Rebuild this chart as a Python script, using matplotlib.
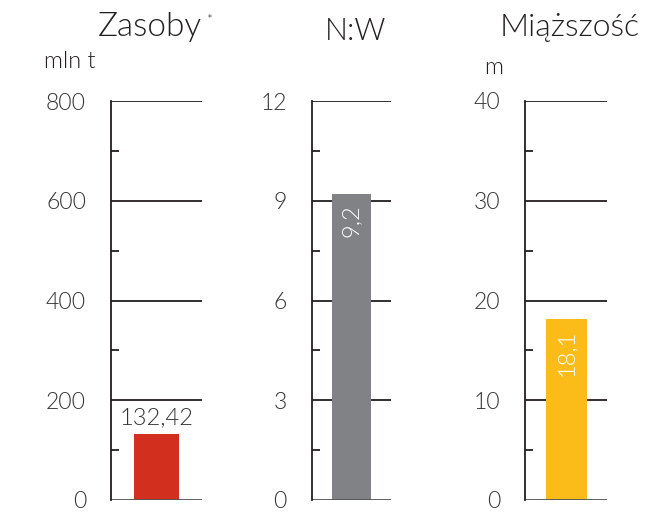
import matplotlib.pyplot as plt

# dane
tytuly = ["Zasoby", "N:W", "Miąższość"]
jednostki = ["mln t", "", "m"]
wartosci = [132.42, 9.2, 18.1]
etykiety = ["132,42", "9,2", "18,1"]
zakresy = [800, 12, 40]
kroki = [200, 3, 10]
kolory = ["#d22f1f", "#808285", "#fbbc19"]

W, H = 665, 515
plt.rcParams['font.family'] = ['Lato', 'DejaVu Sans']
plt.rcParams['font.weight'] = 300
fig = plt.figure(figsize=(W / 100, H / 100), dpi=100)

# położenie osi w pikselach: lewa krawędź, prawa krawędź
osie_px = [(111, 202), (312, 391), (525, 607)]
gora, dol = 101, 500

def px(x, y):
    return x / W, 1 - y / H

for i, (x0, x1) in enumerate(osie_px):
    ax = fig.add_axes([x0 / W, 1 - dol / H, (x1 - x0) / W, (dol - gora) / H])
    ax.set_xlim(0, 1)
    ax.set_ylim(0, zakresy[i])
    ax.bar(0.5, wartosci[i], width=0.5, color=kolory[i], zorder=1)
    # poziome linie siatki
    for t in range(kroki[i], zakresy[i] + 1, kroki[i]):
        ax.axhline(t, color="#231f20", lw=1.3, zorder=0)
    ax.axhline(0, color="#555555", lw=1.3, zorder=2)
    for s in ["top", "right", "bottom"]:
        ax.spines[s].set_visible(False)
    ax.spines["left"].set_color("#231f20")
    ax.spines["left"].set_linewidth(1.3)
    ax.set_xticks([])
    ax.set_yticks(range(0, zakresy[i] + 1, kroki[i]))
    ax.set_yticks([k + kroki[i] / 2 for k in range(0, zakresy[i], kroki[i])], minor=True)
    ax.tick_params(axis="y", which="major", length=0, pad=18, labelsize=16.5, labelcolor="#333333")
    ax.tick_params(axis="y", which="minor", direction="in", length=6, width=1.3, color="#231f20")
    if i == 0:
        ax.text(0.5, wartosci[i] + zakresy[i] * 0.015, etykiety[i], ha="center", va="bottom",
                fontsize=17, color="#333333")
    else:
        ax.text(0.5, wartosci[i] - zakresy[i] * 0.025, etykiety[i], ha="center", va="top",
                rotation=90, fontsize=17, color="white")

# tytuły i jednostki
fig.text(*px(150, 27), "Zasoby", ha="center", va="center", fontsize=24, color="#231f20")
fig.text(*px(210, 20), "*", ha="center", va="center", fontsize=10, color="#231f20")
fig.text(*px(356, 31), "N:W", ha="center", va="center", fontsize=22, color="#231f20")
fig.text(*px(570, 27), "Miąższość", ha="center", va="center", fontsize=23, color="#231f20")
fig.text(*px(70, 62), "mln t", ha="center", va="center", fontsize=17, color="#231f20")
fig.text(*px(494, 68), "m", ha="center", va="center", fontsize=17, color="#231f20")

fig.savefig("out.png", dpi=100)
